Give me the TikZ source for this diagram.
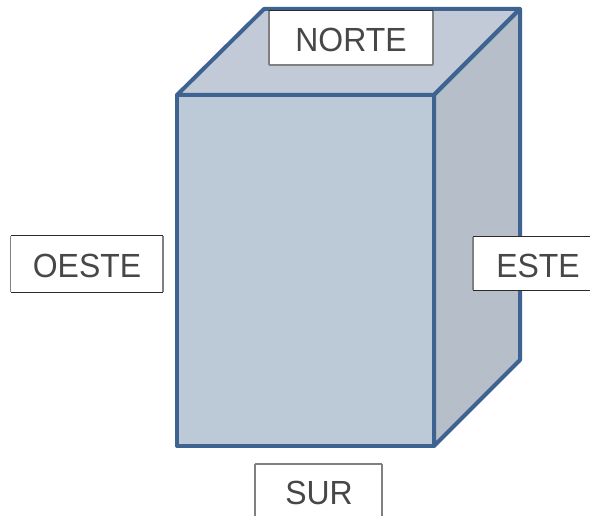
\documentclass[tikz,border=0pt]{standalone}
\usepackage{fontspec}
\setmainfont{Liberation Sans}
\definecolor{edgeblue}{HTML}{3F6391}
\definecolor{frontface}{HTML}{BCC9D7}
\definecolor{topface}{HTML}{C2CAD7}
\definecolor{sideface}{HTML}{B6BEC9}
\definecolor{boxdark}{HTML}{2A2A2A}
\definecolor{boxgrey}{HTML}{808080}
\newcommand{\lbl}[1]{\scalebox{1.03}[1.08]{#1}}
\tikzset{
  x=1pt,y=-1pt,
  face/.style={draw=edgeblue,line width=4pt,line join=round},
  labelbox/.style={fill=white,inner sep=0pt,text=black!72,font=\fontsize{31}{31}\selectfont,anchor=center},
  darkrule/.style={draw=boxdark,line width=1.3pt},
  greyrule/.style={draw=boxgrey,line width=1.8pt}
}
\begin{document}
\begin{tikzpicture}
\useasboundingbox (0,0) rectangle (590,516);
\clip (0,0) rectangle (590,516);
\fill[white] (0,0) rectangle (590,516);
% prism
\coordinate (ftl) at (177,95);
\coordinate (ftr) at (434,95);
\coordinate (fbr) at (434,446);
\coordinate (fbl) at (177,446);
\coordinate (btl) at (264,9);
\coordinate (btr) at (520,9);
\coordinate (bbr) at (520,360);
\filldraw[face,fill=topface] (ftl) -- (btl) -- (btr) -- (ftr) -- cycle;
\filldraw[face,fill=sideface] (ftr) -- (btr) -- (bbr) -- (fbr) -- cycle;
\filldraw[face,fill=frontface] (ftl) -- (ftr) -- (fbr) -- (fbl) -- cycle;
% NORTE
\node[labelbox,minimum width=164pt,minimum height=54pt] (norte) at (351,38) {};
\node[labelbox] (nortetext) at (351,39.5) {\lbl{NORTE}};
\draw[greyrule] (norte.north west) -- (norte.south west);
\draw[greyrule] (norte.north east) -- (norte.south east);
\draw[greyrule] (norte.south west) -- (norte.south east);
\draw[darkrule] (norte.north west) -- (norte.north east);
% OESTE
\node[labelbox,minimum width=152pt,minimum height=56pt] (oeste) at (87,264) {};
\node[labelbox] (oestetext) at (87,265.5) {\lbl{OESTE}};
\draw[boxgrey,line width=.8pt] (oeste.north west) -- (oeste.south west);
\draw[greyrule] (oeste.north east) -- (oeste.south east);
\draw[darkrule] (oeste.north west) -- (oeste.north east);
\draw[darkrule] (oeste.south west) -- (oeste.south east);
% ESTE
\node[labelbox,minimum width=134pt,minimum height=53pt] (este) at (540,263.5) {};
\node[labelbox] (estetext) at (538,265.5) {\lbl{ESTE}};
\draw[greyrule] (este.north west) -- (este.south west);
\draw[darkrule] (este.north west) -- (este.north east);
\draw[darkrule] (este.south west) -- (este.south east);
% SUR
\node[labelbox,minimum width=127pt,minimum height=60pt] (sur) at (318.5,494) {};
\node[labelbox] (surtext) at (319,492.5) {\lbl{SUR}};
\draw[greyrule] (sur.north west) -- (sur.south west);
\draw[greyrule] (sur.north east) -- (sur.south east);
\draw[greyrule] (sur.north west) -- (sur.north east);
\end{tikzpicture}
\end{document}
